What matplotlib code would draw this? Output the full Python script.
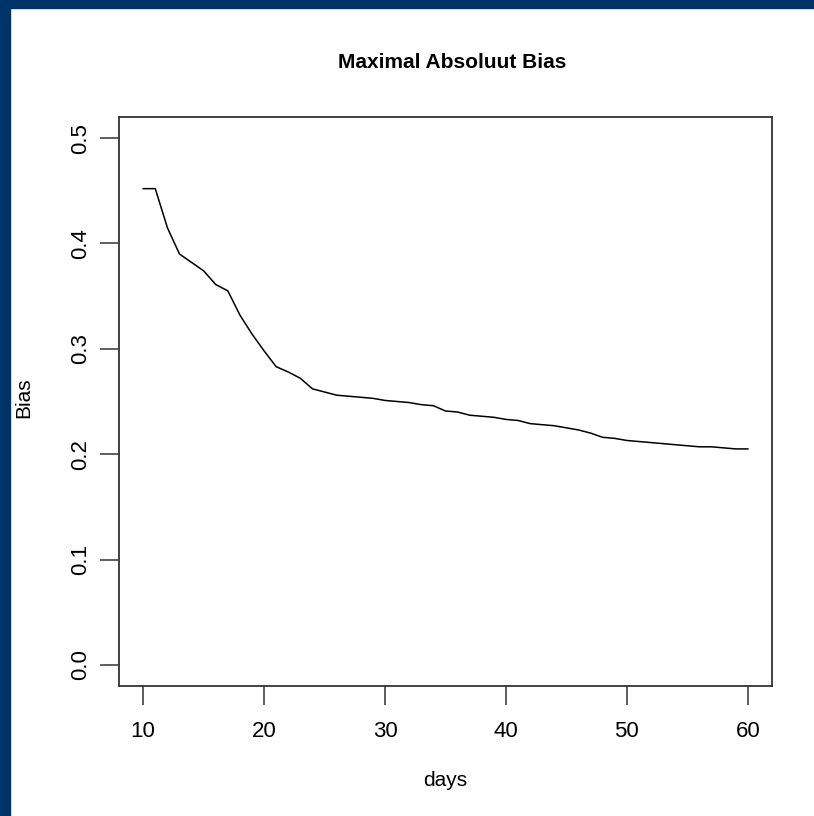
import matplotlib
matplotlib.use("Agg")
import matplotlib.pyplot as plt
from matplotlib.patches import Rectangle

plt.rcParams['font.family'] = ['Liberation Sans', 'DejaVu Sans']

# values
days = list(range(10, 61))
bias = [0.452, 0.452, 0.415, 0.390, 0.382, 0.374, 0.361, 0.355, 0.332, 0.314,
        0.298, 0.283, 0.278, 0.272, 0.262, 0.259, 0.256, 0.255, 0.254, 0.253,
        0.251, 0.250, 0.249, 0.247, 0.246, 0.241, 0.240, 0.237, 0.236, 0.235,
        0.233, 0.232, 0.229, 0.228, 0.227, 0.225, 0.223, 0.220, 0.216, 0.215,
        0.213, 0.212, 0.211, 0.210, 0.209, 0.208, 0.207, 0.207, 0.206, 0.205,
        0.205]
x_ticks = [10, 20, 30, 40, 50, 60]
y_ticks = [0.0, 0.1, 0.2, 0.3, 0.4, 0.5]

W, H = 814, 816
fig = plt.figure(figsize=(W / 100, H / 100), dpi=100)

# dark blue frame (top and left edges)
frame = '#003468'
fig.patches.append(Rectangle((0, 1 - 8 / H), 1, 8 / H, transform=fig.transFigure, color=frame))
fig.patches.append(Rectangle((0, 0), 10 / W, 1, transform=fig.transFigure, color=frame))

left, right, top, bottom = 119, 772, 117, 686
ax = fig.add_axes([left / W, 1 - bottom / H, (right - left) / W, (bottom - top) / H])

ax.plot(days, bias, color='black', lw=1.1)
ax.set_xlim(8, 62)
ax.set_ylim(-0.02, 0.52)
ax.set_xticks(x_ticks)
ax.set_yticks(y_ticks)
ax.set_yticklabels([f"{v:.1f}" for v in y_ticks], rotation=90, va='center')

for s in ax.spines.values():
    s.set_color('#333333')
    s.set_linewidth(1.3)
ax.tick_params(direction='out', length=14, width=1.1, color='#333333', labelsize=16)
ax.tick_params(axis='x', pad=11)
ax.tick_params(axis='y', pad=6)

fig.text(452 / W, 1 - 62 / H, "Maximal Absoluut Bias",
         ha='center', va='center', fontsize=15, fontweight='bold')
fig.text((left + right) / 2 / W, 1 - 781 / H, "days", ha='center', va='center', fontsize=15)
fig.text(24 / W, 1 - 398 / H, "Bias", ha='center', va='center', rotation=90, fontsize=15)

fig.savefig("out.png", dpi=100)
